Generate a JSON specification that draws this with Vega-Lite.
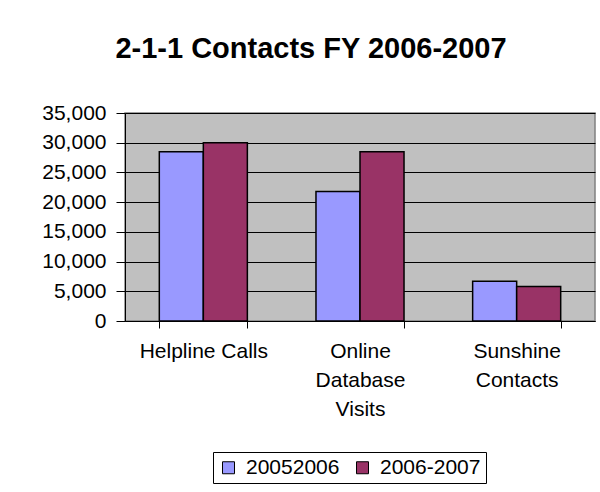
{
  "$schema": "https://vega.github.io/schema/vega-lite/v6.json",
  "autosize": "none",
  "width": 470,
  "height": 208,
  "padding": {"left": 125, "top": 113, "right": 5, "bottom": 171},
  "background": "white",
  "title": {
    "text": "2-1-1 Contacts FY 2006-2007",
    "font": "Liberation Sans",
    "fontSize": 29,
    "fontWeight": "bold",
    "color": "black",
    "anchor": "middle",
    "dx": -49,
    "baseline": "alphabetic",
    "offset": 15
  },
  "data": {
    "values": [
      {"category": "Helpline Calls", "series": "20052006", "contacts": 28500},
      {"category": "Helpline Calls", "series": "2006-2007", "contacts": 30000},
      {"category": "Online Database Visits", "series": "20052006", "contacts": 21800},
      {"category": "Online Database Visits", "series": "2006-2007", "contacts": 28500},
      {"category": "Sunshine Contacts", "series": "20052006", "contacts": 6700},
      {"category": "Sunshine Contacts", "series": "2006-2007", "contacts": 5800}
    ]
  },
  "mark": {"type": "bar", "stroke": "black", "strokeWidth": 1.5},
  "encoding": {
    "x": {
      "field": "category",
      "type": "nominal",
      "sort": null,
      "scale": {"paddingInner": 0.438, "paddingOuter": 0.219},
      "axis": {
        "title": null,
        "labelAngle": 0,
        "labelExpr": "datum.label == 'Helpline Calls' ? datum.label : split(datum.label, ' ')",
        "labelFont": "Liberation Sans",
        "labelFontSize": 21,
        "labelColor": "black",
        "labelBaseline": "top",
        "labelLineHeight": 29,
        "labelPadding": 12,
        "tickBand": "extent",
        "tickSize": 7,
        "tickColor": "black",
        "domainColor": "black",
        "labelLimit": 300
      }
    },
    "xOffset": {"field": "series", "type": "nominal"},
    "y": {
      "field": "contacts",
      "type": "quantitative",
      "scale": {"domain": [0, 35000], "nice": false},
      "axis": {
        "title": null,
        "values": [0, 5000, 10000, 15000, 20000, 25000, 30000, 35000],
        "format": ",d",
        "labelFont": "Liberation Sans",
        "labelFontSize": 21,
        "labelColor": "black",
        "labelPadding": 10,
        "tickSize": 9,
        "tickColor": "black",
        "domainColor": "black",
        "grid": true,
        "gridColor": "black",
        "gridWidth": 1,
        "gridOpacity": 1
      }
    },
    "color": {
      "field": "series",
      "type": "nominal",
      "scale": {"domain": ["20052006", "2006-2007"], "range": ["#9999FF", "#993366"]},
      "legend": {
        "title": null,
        "orient": "none",
        "legendX": 88,
        "legendY": 339,
        "direction": "horizontal",
        "strokeColor": "black",
        "fillColor": "white",
        "padding": 5,
        "symbolType": "square",
        "symbolSize": 144,
        "symbolStrokeColor": "black",
        "symbolStrokeWidth": 1,
        "symbolOpacity": 1,
        "labelFont": "Liberation Sans",
        "labelFontSize": 21,
        "labelColor": "black",
        "labelOffset": 7,
        "columnPadding": 12
      }
    }
  },
  "config": {
    "view": {"fill": "#C0C0C0", "stroke": "#808080", "strokeWidth": 1.5},
    "axis": {"domainWidth": 1, "tickWidth": 1}
  }
}
